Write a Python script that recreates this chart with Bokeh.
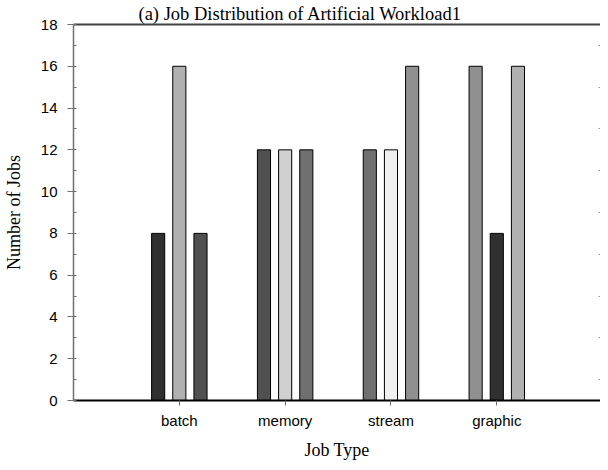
from bokeh.plotting import figure
from bokeh.models import ColumnDataSource, FixedTicker, LinearAxis, Range1d
from bokeh.transform import dodge
from bokeh.embed import file_html
from bokeh.resources import INLINE

# ---- data ----
categories = ["batch", "memory", "stream", "graphic"]
series_a = [8, 12, 12, 16]
series_b = [16, 12, 12, 8]
series_c = [8, 12, 16, 16]
y_ticks = [0, 2, 4, 6, 8, 10, 12, 14, 16, 18]

# ---- styles ----
fill_a = ["#303030", "#505050", "#707070", "#909090"]
fill_b = ["#b0b0b0", "#d0d0d0", "#f0f0f0", "#303030"]
fill_c = ["#505050", "#707070", "#909090", "#b0b0b0"]

positions = list(range(1, len(categories) + 1))
src = ColumnDataSource(dict(x=positions, a=series_a, b=series_b, c=series_c,
                            fa=fill_a, fb=fill_b, fc=fill_c))

p = figure(width=600, height=462, output_backend="svg", toolbar_location=None,
           x_range=Range1d(0, 4.98), y_range=Range1d(0, 18),
           min_border_left=64, min_border_right=0, min_border_bottom=60,
           min_border_top=0)

p.title.text = "(a) Job Distribution of Artificial Workload1"
p.title.text_font = "Liberation Serif"
p.title.text_font_style = "normal"
p.title.text_font_size = "18.5px"
p.title.align = "left"
p.title.offset = 65
p.title.standoff = 2
p.title.text_color = "black"

p.background_fill_color = "white"
p.border_fill_color = "white"
p.outline_line_color = None
p.xgrid.visible = False
p.ygrid.visible = False

bw = 0.124
off = 0.2
p.vbar(x=dodge("x", -off, range=p.x_range), top="a", width=bw, source=src,
       fill_color="fa", line_color="black", line_width=1)
p.vbar(x=dodge("x", 0, range=p.x_range), top="b", width=bw, source=src,
       fill_color="fb", line_color="black", line_width=1)
p.vbar(x=dodge("x", off, range=p.x_range), top="c", width=bw, source=src,
       fill_color="fc", line_color="black", line_width=1)

# x axis
xa = p.xaxis[0]
xa.ticker = FixedTicker(ticks=positions)
xa.major_label_overrides = {pos: cat for pos, cat in zip(positions, categories)}
xa.axis_label = "Job Type"
xa.axis_label_text_font = "Liberation Serif"
xa.axis_label_text_font_style = "normal"
xa.axis_label_text_font_size = "18px"
xa.axis_label_text_color = "black"
xa.axis_label_standoff = 8
xa.major_label_text_font = "Liberation Sans"
xa.major_label_text_font_size = "15px"
xa.major_label_text_color = "black"
xa.major_label_standoff = 6
xa.axis_line_color = "black"
xa.axis_line_width = 2
xa.major_tick_line_color = "#666666"
xa.major_tick_out = 5
xa.major_tick_in = 0
xa.minor_tick_line_color = None

# y axis
ya = p.yaxis[0]
ya.ticker = FixedTicker(ticks=y_ticks, minor_ticks=list(range(0, 19)))
ya.axis_label = "Number of Jobs"
ya.axis_label_text_font = "Liberation Serif"
ya.axis_label_text_font_style = "normal"
ya.axis_label_text_font_size = "18px"
ya.axis_label_text_color = "black"
ya.axis_label_standoff = 14
ya.major_label_text_font = "Liberation Sans"
ya.major_label_text_font_size = "15px"
ya.major_label_text_color = "black"
ya.major_label_standoff = 10
ya.axis_line_color = "#707070"
ya.axis_line_width = 1.5
ya.major_tick_line_color = "#707070"
ya.major_tick_out = 6
ya.major_tick_in = 0
ya.minor_tick_line_color = "#707070"
ya.minor_tick_in = 3
ya.minor_tick_out = 0

# top border line
top = LinearAxis(ticker=FixedTicker(ticks=[]), axis_line_color="#404040",
                 axis_line_width=2, major_tick_line_color=None,
                 minor_tick_line_color=None, major_label_standoff=0,
                 axis_label_standoff=0)
p.add_layout(top, "above")

# right side inward minor ticks
right = LinearAxis(ticker=FixedTicker(ticks=[], minor_ticks=list(range(1, 19, 2))),
                   axis_line_color=None, major_tick_line_color=None,
                   major_label_standoff=0, axis_label_standoff=0,
                   major_tick_out=0, major_tick_in=0,
                   minor_tick_line_color="#999999", minor_tick_in=2, minor_tick_out=0)
p.add_layout(right, "right")

open("out.html", "w").write(file_html(p, INLINE))
